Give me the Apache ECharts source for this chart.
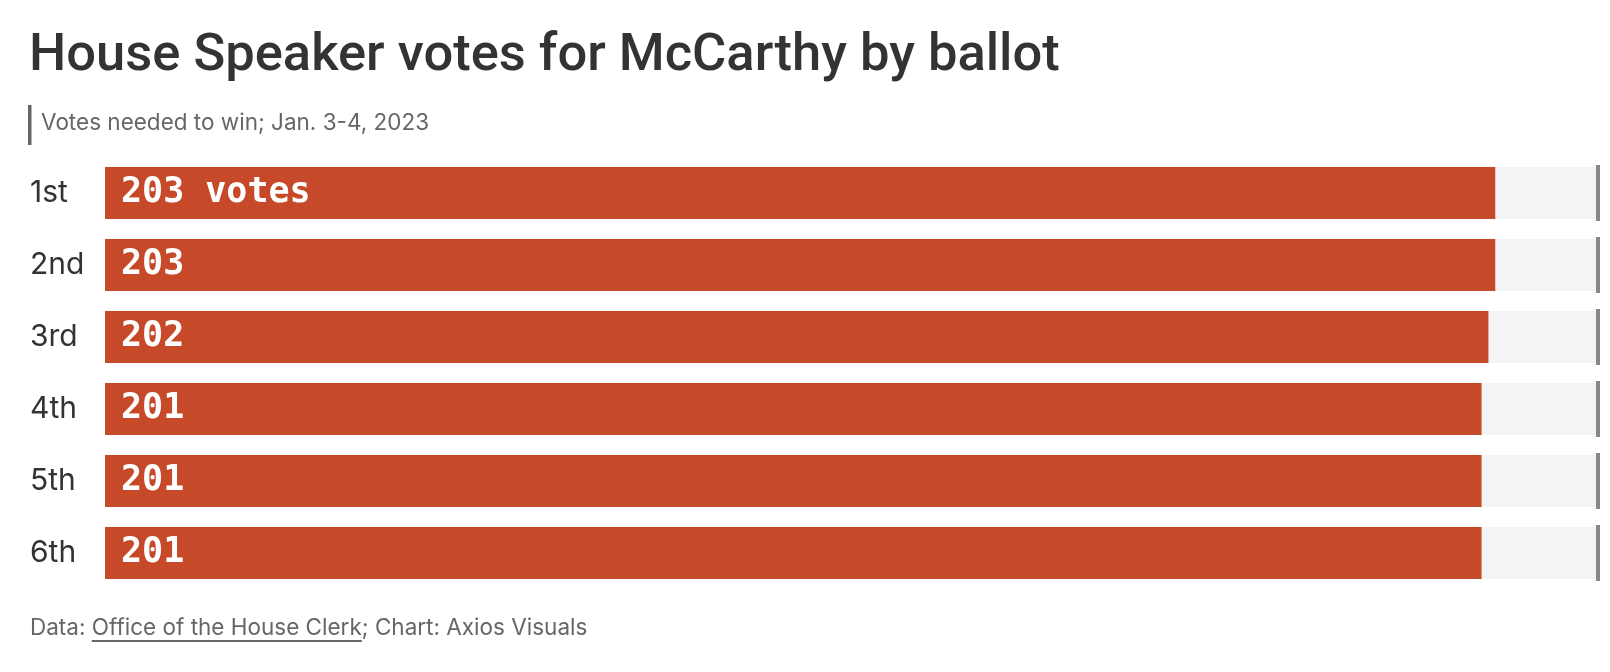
<!DOCTYPE html>
<html>
<head>
<meta charset="utf-8">
<script src="https://cdn.jsdelivr.net/npm/echarts@6/dist/echarts.min.js"></script>
<style>
  html, body { margin: 0; padding: 0; background: #fff; }
  #chart { width: 1610px; height: 672px; }
</style>
</head>
<body>
<div id="chart"></div>
<script>
// ballots and McCarthy's vote count on each
const ballots = ["1st", "2nd", "3rd", "4th", "5th", "6th"];
const votes = [203, 203, 202, 201, 201, 201];
// votes needed to win on each ballot
const needed = [218, 218, 218, 218, 218, 218];

const titleText = "House Speaker votes for McCarthy by ballot";
const subText = "Votes needed to win; Jan. 3-4, 2023";

const chart = echarts.init(document.getElementById("chart"));

const sans = "Inter, 'Noto Sans', sans-serif";
const footFont = "22.5px " + sans;
const measure = (txt, font) => new echarts.graphic.Text({ style: { text: txt, font: font } }).getBoundingRect().width;

// footer pieces, laid out left to right
const footParts = ["Data: ", "Office of the House Clerk", "; Chart: Axios Visuals"];
let fx = 30;
const footEls = [];
footParts.forEach((p, i) => {
    const w = measure(p, footFont);
    footEls.push({
        type: "text", left: fx, top: 617,
        style: { text: p, font: footFont, fill: "#666" }
    });
    if (i === 1) {
        footEls.push({
            type: "rect", left: fx, top: 640,
            shape: { width: w, height: 2 },
            style: { fill: "#666" }
        });
    }
    fx += w;
});

const option = {
    animation: false,
    grid: { left: 105, right: 12, top: 157, bottom: 83 },
    xAxis: { type: "value", min: 0, max: 218, show: false },
    yAxis: {
        type: "category",
        data: ballots,
        inverse: true,
        axisLine: { show: false },
        axisTick: { show: false },
        axisLabel: {
            align: "left",
            margin: 75,
            color: "#333",
            fontFamily: sans,
            fontSize: 30
        }
    },
    graphic: [
        {
            type: "text", left: 29, top: 30,
            style: { text: titleText, font: "500 52.5px Roboto, " + sans, fill: "#333" }
        },
        {
            type: "rect", left: 28, top: 105,
            shape: { width: 3.5, height: 40 },
            style: { fill: "#666" }
        },
        {
            type: "text", left: 41, top: 112,
            style: { text: subText, font: "22.5px " + sans, fill: "#666" }
        }
    ].concat(footEls),
    series: [
        {
            type: "bar",
            data: votes,
            barWidth: 52,
            itemStyle: { color: "#c64a29" },
            showBackground: true,
            backgroundStyle: { color: "#f4f4f4" },
            label: {
                show: true,
                position: "insideLeft",
                distance: 16,
                color: "#fff",
                fontFamily: "'DejaVu Sans Mono', monospace",
                fontWeight: "bold",
                fontSize: 35,
                formatter: p => p.dataIndex === 0 ? p.value + " votes" : String(p.value)
            },
            z: 2
        },
        {
            type: "scatter",
            data: needed,
            symbol: "rect",
            symbolSize: [4, 56],
            itemStyle: { color: "#888", opacity: 1 },
            clip: false,
            silent: true,
            z: 3
        }
    ]
};

chart.setOption(option);
</script>
</body>
</html>
